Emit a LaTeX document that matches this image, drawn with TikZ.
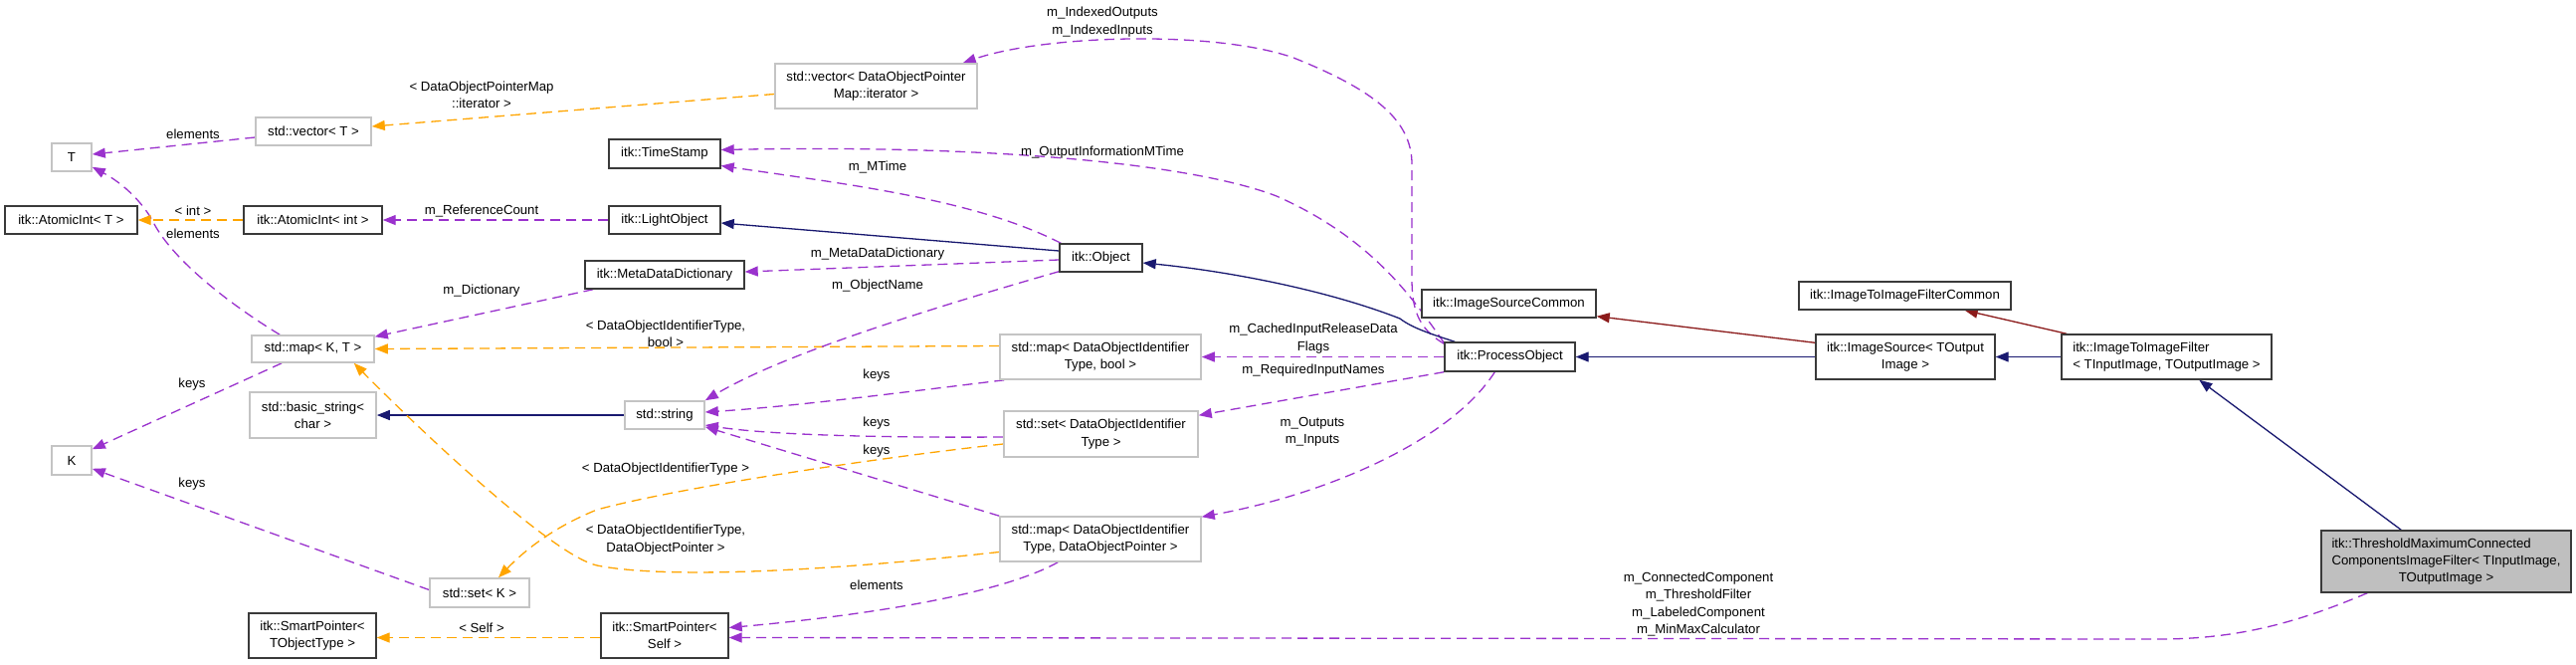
\documentclass[tikz,border=0pt]{standalone}
\usepackage{fontspec}
\setmainfont{Liberation Sans}
\usetikzlibrary{arrows.meta,calc,backgrounds}
\definecolor{usecol}{HTML}{9A32CD}
\definecolor{tmplcol}{HTML}{FFA500}
\definecolor{inhcol}{HTML}{191970}
\definecolor{protcol}{HTML}{8B1A1A}
\definecolor{boxblack}{HTML}{3A3A3A}
\definecolor{boxgray}{HTML}{C4C4C4}
\definecolor{finalgray}{HTML}{BFBFBF}
\newcommand{\dxfont}{\fontsize{13.2}{17.3}\selectfont}
\begin{document}
\begin{tikzpicture}[x=1pt,y=-1pt,
  every node/.style={font=\dxfont, inner sep=0pt},
  sz/.style 2 args={minimum width=#1pt, minimum height=#2pt},
  cls/.style={draw=boxblack, line width=1.4pt, fill=white, align=center},
  ext/.style={draw=boxgray, line width=1.6pt, fill=white, align=center},
  lbl/.style={align=center},
  tipp/.style={-{Triangle[length=13pt,width=10pt]}},
  use/.style={tipp, draw=usecol, line width=1.3pt, dash pattern=on 10pt off 6pt},
  tmpl/.style={tipp, draw=tmplcol, line width=1.3pt, dash pattern=on 10pt off 6pt},
  inh/.style={tipp, draw=inhcol, line width=1.3pt},
  prot/.style={tipp, draw=protcol, line width=1.3pt}]
\useasboundingbox (0,0) rectangle (2589,667);

% ---------- nodes ----------
\node[ext, sz={40}{28}] (T) at (72,158) {T};
\node[cls, sz={133}{28}] (AIT) at (71.5,221) {itk::AtomicInt< T >};
\node[ext, sz={40}{29}] (K) at (72,462.5) {K};
\node[ext, sz={116}{28}] (vecT) at (315,132) {std::vector< T >};
\node[cls, sz={139}{28}] (AII) at (314.5,221) {itk::AtomicInt< int >};
\node[ext, sz={123}{27}] (mapKT) at (314.5,350.5) {std::map< K, T >};
\node[ext, sz={127}{46}] (bstr) at (314.5,417) {std::basic\_string<\\char >};
\node[ext, sz={100}{29}] (setK) at (482,595.5) {std::set< K >};
\node[cls, sz={128}{45}] (SPT) at (314,638.5) {itk::SmartPointer<\\TObjectType >};
\node[ext, sz={203}{45}] (vecDOP) at (880.5,86.5) {std::vector< DataObjectPointer\\Map::iterator >};
\node[cls, sz={112}{29}] (TS) at (668,154.5) {itk::TimeStamp};
\node[cls, sz={112}{28}] (LO) at (668,221) {itk::LightObject};
\node[cls, sz={160}{28}] (MDD) at (668,276) {itk::MetaDataDictionary};
\node[ext, sz={80}{28}] (str) at (668,417) {std::string};
\node[cls, sz={128}{45}] (SPS) at (668,638.5) {itk::SmartPointer<\\Self >};
\node[cls, sz={83}{28}] (Obj) at (1106.5,259) {itk::Object};
\node[ext, sz={202}{45}] (mapB) at (1106,358.5) {std::map< DataObjectIdentifier\\Type, bool >};
\node[ext, sz={195}{46}] (setD) at (1106.5,436) {std::set< DataObjectIdentifier\\Type >};
\node[ext, sz={202}{45}] (mapP) at (1106,541.5) {std::map< DataObjectIdentifier\\Type, DataObjectPointer >};
\node[cls, sz={131}{29}] (PO) at (1517.5,358.5) {itk::ProcessObject};
\node[cls, sz={175}{28}] (ISC) at (1516.5,305) {itk::ImageSourceCommon};
\node[cls, sz={180}{45}] (IS) at (1915,358.5) {itk::ImageSource< TOutput\\Image >};
\node[cls, sz={213}{28}] (ITIFC) at (1914.5,297) {itk::ImageToImageFilterCommon};
\node[cls, sz={211}{45}] (ITIF) at (2177.5,358.5) {\begin{tabular}{@{}l@{}}itk::ImageToImageFilter\\< TInputImage, TOutputImage >\end{tabular}};
\node[cls, fill=finalgray, sz={251}{62}] (Fin) at (2458.5,564) {\begin{tabular}{@{}l@{}}itk::ThresholdMaximumConnected\\ComponentsImageFilter< TInputImage,\\\multicolumn{1}{@{}c@{}}{TOutputImage >}\end{tabular}};

% ---------- labels ----------
\node[lbl] (l1) at (194,135) {elements};
\node[lbl] (l2) at (194,235) {elements};
\node[lbl] (l3) at (194,212) {< int >};
\node[lbl] (l4) at (484,212) {m\_ReferenceCount};
\node[lbl] (l5) at (193,386) {keys};
\node[lbl] (l6) at (193,486) {keys};
\node[lbl] (l7) at (484,95) {< DataObjectPointerMap\\::iterator >};
\node[lbl] (l8) at (484,292) {m\_Dictionary};
\node[lbl] (l9) at (669,335) {< DataObjectIdentifierType,\\bool >};
\node[lbl] (l10) at (669,471) {< DataObjectIdentifierType >};
\node[lbl] (l11) at (669,542) {< DataObjectIdentifierType,\\DataObjectPointer >};
\node[lbl] (l12) at (484,631) {< Self >};
\node[lbl] (l13) at (882,168) {m\_MTime};
\node[lbl] (l14) at (1108,153) {m\_OutputInformationMTime};
\node[lbl] (l15) at (1108,22) {m\_IndexedOutputs\\m\_IndexedInputs};
\node[lbl] (l16) at (882,255) {m\_MetaDataDictionary};
\node[lbl] (l17) at (882,287) {m\_ObjectName};
\node[lbl] (l18) at (881,377) {keys};
\node[lbl] (l19) at (881,425) {keys};
\node[lbl] (l20) at (881,453) {keys};
\node[lbl] (l21) at (1320,340) {m\_CachedInputReleaseData\\Flags};
\node[lbl] (l22) at (1320,372) {m\_RequiredInputNames};
\node[lbl] (l23) at (1319,434) {m\_Outputs\\m\_Inputs};
\node[lbl] (l24) at (881,588) {elements};
\node[lbl] (l25) at (1707,607) {m\_ConnectedComponent\\m\_ThresholdFilter\\m\_LabeledComponent\\m\_MinMaxCalculator};

% ---------- edges ----------
\begin{scope}[on background layer]
\fill[white] (0,0) rectangle (2589,667);
\draw[use] ($(vecT.west)+(0,6)$) -- ($(T.east)+(0,-3)$);
\draw[use] ($(mapKT.north west)+(29,0)$) .. controls (230,305) and (175,262) .. (155,225) .. controls (145,205) and (125,185) .. ($(T.south east)+(0,-5)$);
\draw[tmpl] (AII.west) -- (AIT.east);
\draw[use] (LO.west) -- (AII.east);
\draw[use] ($(mapKT.south west)+(31,0)$) -- ($(K.north east)+(0,4)$);
\draw[use] ($(setK.west)+(0,-3)$) -- ($(K.south east)+(0,-7)$);
\draw[tmpl] ($(vecDOP.west)+(0,8)$) -- ($(vecT.east)+(0,-5)$);
\draw[inh] (str.west) -- (bstr.east);
\draw[use] ($(MDD.south west)+(9,0)$) -- ($(mapKT.north east)+(0,2)$);
\draw[tmpl] ($(mapB.west)+(0,-11)$) -- (mapKT.east);
\draw[tmpl] ($(mapP.west)+(0,13)$) .. controls (800,577) and (660,580) .. (600,568) .. controls (555,558) and (420,430) .. ($(mapKT.south east)+(-21,0)$);
\draw[tmpl] ($(setD.west)+(0,10)$) .. controls (880,460) and (680,490) .. (600,512) .. controls (560,528) and (530,550) .. ($(setK.north)+(19,0)$);
\draw[use] ($(Obj.north west)+(2,0)$) .. controls (980,200) and (850,185) .. ($(TS.east)+(0,12)$);
\draw[use] ($(PO.north west)+(0,1)$) .. controls (1420,300) and (1380,240) .. (1283,197) .. controls (1200,165) and (1000,145) .. ($(TS.east)+(0,-4)$);
\draw[use] ($(PO.north west)+(0,2)$) .. controls (1425,330) and (1419,310) .. (1419,280) -- (1419,165) .. controls (1419,120) and (1380,90) .. (1300,58) .. controls (1220,30) and (1050,35) .. ($(vecDOP.north east)+(-15,0)$);
\draw[inh] ($(Obj.west)+(0,-7)$) -- ($(LO.east)+(0,3)$);
\draw[use] ($(Obj.west)+(0,2)$) -- ($(MDD.east)+(0,-3)$);
\draw[use] ($(Obj.south west)+(0,-1)$) .. controls (900,320) and (780,360) .. (str.north east);
\draw[use] ($(mapB.south west)+(5,0)$) .. controls (900,395) and (800,408) .. ($(str.east)+(0,-3)$);
\draw[use] ($(setD.west)+(0,3)$) .. controls (850,440) and (760,435) .. ($(str.east)+(0,10)$);
\draw[use] (mapP.north west) -- ($(str.south east)+(0,-3)$);
\draw[inh] ($(PO.north west)+(11,0)$) .. controls (1440,336) and (1420,330) .. (1407,320) .. controls (1330,290) and (1230,272) .. ($(Obj.east)+(0,5)$);
\draw[use] (PO.west) -- (mapB.east);
\draw[use] (PO.south west) -- ($(setD.north east)+(0,5)$);
\draw[use] ($(PO.south west)+(51,0)$) .. controls (1460,440) and (1340,495) .. ($(mapP.north east)+(0,1)$);
\draw[use] ($(mapP.south west)+(59,0)$) .. controls (1000,600) and (850,620) .. ($(SPS.east)+(0,-8)$);
\draw[use] ($(Fin.south west)+(47,0)$) .. controls (2310,625) and (2250,642) .. (2170,642) -- ($(SPS.east)+(0,2)$);
\draw[tmpl] ($(SPS.west)+(0,2)$) -- ($(SPT.east)+(0,2)$);
\draw[inh] (IS.west) -- (PO.east);
\draw[prot] ($(IS.north west)+(0,9)$) -- ($(ISC.south east)+(0,-2)$);
\draw[inh] (ITIF.west) -- (IS.east);
\draw[prot] ($(ITIF.north west)+(6,0)$) -- ($(ITIFC.south east)+(-47,0)$);
\draw[inh] ($(Fin.north west)+(81,0)$) -- ($(ITIF.south west)+(139,0)$);
\end{scope}
\end{tikzpicture}
\end{document}
